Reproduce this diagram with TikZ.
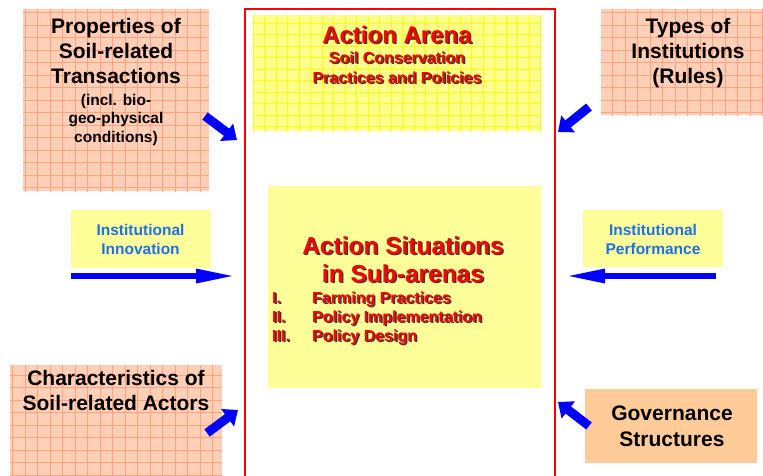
\documentclass[tikz,border=0pt]{standalone}
\usepackage{fontspec}
\setmainfont{Liberation Sans}
\usetikzlibrary{arrows.meta}
\definecolor{salmonbg}{HTML}{FFCFB8}
\definecolor{salmongrid}{HTML}{FFA47C}
\definecolor{ylwbg}{HTML}{FFFF8C}
\definecolor{ylwgrid}{HTML}{FFFF10}
\definecolor{paleyellow}{HTML}{FFFF99}
\definecolor{peach}{HTML}{FFCC99}
\definecolor{framered}{HTML}{FF0000}
\definecolor{txtblue}{HTML}{1F6FE6}
\definecolor{arrowblue}{HTML}{0000FF}
\definecolor{shadowdark}{HTML}{383838}
\newcommand{\fsz}[1]{\fontsize{#1}{#1}\selectfont\bfseries}
\newcommand{\bline}[5]{\node[btext, font=\fsz{#4}] (#1) at (#2,#3) {#5};}
\newcommand{\blueline}[5]{\node[bluetext, font=\fsz{#4}] (#1) at (#2,#3) {#5};}
\newcommand{\rline}[6]{%
  \node[rshadow, anchor=#2, font=\fsz{#5}] (#1s) at (#3+1.4,#4+1.4) {#6};
  \node[rtext, anchor=#2, font=\fsz{#5}] (#1) at (#3,#4) {#6};}
\newcommand{\gridfill}[3]{%
  \begin{scope}
    \clip (#1.south west) rectangle (#1.north east);
    \draw[#2, line width=1pt, step=#3] ([shift={(-20,-20)}]#1.north west) grid ([shift={(20,20)}]#1.south east);
  \end{scope}}
\begin{document}
\begin{tikzpicture}[x=1pt,y=-1pt,
  boxbase/.style={draw=none, inner sep=0pt, outer sep=0pt},
  salmonbox/.style={boxbase, fill=salmonbg},
  yellowgridbox/.style={boxbase, fill=ylwbg},
  paleybox/.style={boxbase, fill=paleyellow},
  peachbox/.style={boxbase, fill=peach},
  btext/.style={anchor=base, inner sep=0pt, text=black},
  bluetext/.style={anchor=base, inner sep=0pt, text=txtblue},
  rtext/.style={inner sep=0pt, text=framered},
  rshadow/.style={inner sep=0pt, text=shadowdark},
  diagarrow/.style={draw=arrowblue, line width=9pt, -{Triangle[length=13pt, width=21pt]}},
  flatarrow/.style={draw=arrowblue, line width=6pt, -{Triangle[length=40pt, width=13pt]}},
]
\useasboundingbox (0,0) rectangle (763,475);

% ---------- boxes ----------
\node[salmonbox, minimum width=186pt, minimum height=182pt] (prop) at (116,100) {};
\gridfill{prop}{salmongrid}{12.5pt}
\node[salmonbox, minimum width=170pt, minimum height=106pt] (types) at (686,62) {};
\gridfill{types}{salmongrid}{12.5pt}
\node[salmonbox, minimum width=212pt, minimum height=125pt] (charac) at (116,427.5) {};
\gridfill{charac}{salmongrid}{12.5pt}
\node[peachbox, minimum width=172pt, minimum height=74pt] (gov) at (671,426) {};

\node[yellowgridbox, minimum width=288pt, minimum height=116pt] (arenabox) at (397,73) {};
\gridfill{arenabox}{ylwgrid}{11.5pt}
\node[paleybox, minimum width=273pt, minimum height=202pt] (sit) at (404.5,287) {};
\node[paleybox, minimum width=140pt, minimum height=58pt] (innov) at (141,239) {};
\node[paleybox, minimum width=140pt, minimum height=57pt] (perf) at (653,238.5) {};

\node[draw=framered, line width=2.6pt, inner sep=0pt, minimum width=310pt, minimum height=490pt] (arena) at (400,254) {};

% ---------- black texts ----------
\bline{p1}{116}{33}{21}{Properties of}
\bline{p2}{116}{58}{21}{Soil-related}
\bline{p3}{116}{83}{21}{Transactions}
\bline{p4}{116}{105}{15.5}{(incl. bio-}
\bline{p5}{116}{123.5}{15.5}{geo-physical}
\bline{p6}{116}{142}{15.5}{conditions)}

\bline{t1}{688}{33}{21}{Types of}
\bline{t2}{688}{58}{21}{Institutions}
\bline{t3}{688}{83}{21}{(Rules)}

\bline{c1}{116}{385}{21}{Characteristics of}
\bline{c2}{116}{410}{21}{Soil-related Actors}

\bline{g1}{672}{420}{21}{Governance}
\bline{g2}{672}{446}{21}{Structures}

% ---------- blue texts ----------
\blueline{i1}{140.5}{235}{15.5}{Institutional}
\blueline{i2}{140.5}{254}{15.5}{Innovation}
\blueline{f1}{653}{235}{15.5}{Institutional}
\blueline{f2}{653}{254}{15.5}{Performance}

% ---------- red shadowed texts ----------
\rline{a1}{base}{397}{43}{24}{Action Arena}
\rline{a2}{base}{397}{63}{16}{Soil Conservation}
\rline{a3}{base}{397}{83}{16}{Practices and Policies}

\rline{s1}{base}{403}{254}{24.5}{Action Situations}
\rline{s2}{base}{403}{282}{24.5}{in Sub-arenas}
\rline{n1}{base west}{272}{303}{16}{I.}
\rline{l1}{base west}{312}{303}{16}{Farming Practices}
\rline{n2}{base west}{272}{322}{16}{II.}
\rline{l2}{base west}{312}{322}{16}{Policy Implementation}
\rline{n3}{base west}{272}{341}{16}{III.}
\rline{l3}{base west}{312}{341}{16}{Policy Design}

% ---------- arrows ----------
\coordinate (tlS) at (205,116);  \coordinate (tlE) at (237,140);
\coordinate (trS) at (589,107);  \coordinate (trE) at (558,132);
\coordinate (blS) at (207,433);  \coordinate (blE) at (238,410);
\coordinate (brS) at (589,426);  \coordinate (brE) at (558,402);
\coordinate (inS) at (71,276);   \coordinate (inE) at (236,276);
\coordinate (pfS) at (716,276);  \coordinate (pfE) at (565,276);

\draw[diagarrow] (tlS) -- (tlE);
\draw[diagarrow] (trS) -- (trE);
\draw[diagarrow] (blS) -- (blE);
\draw[diagarrow] (brS) -- (brE);
\draw[flatarrow] (inS) -- (inE);
\draw[flatarrow] (pfS) -- (pfE);
\end{tikzpicture}
\end{document}
